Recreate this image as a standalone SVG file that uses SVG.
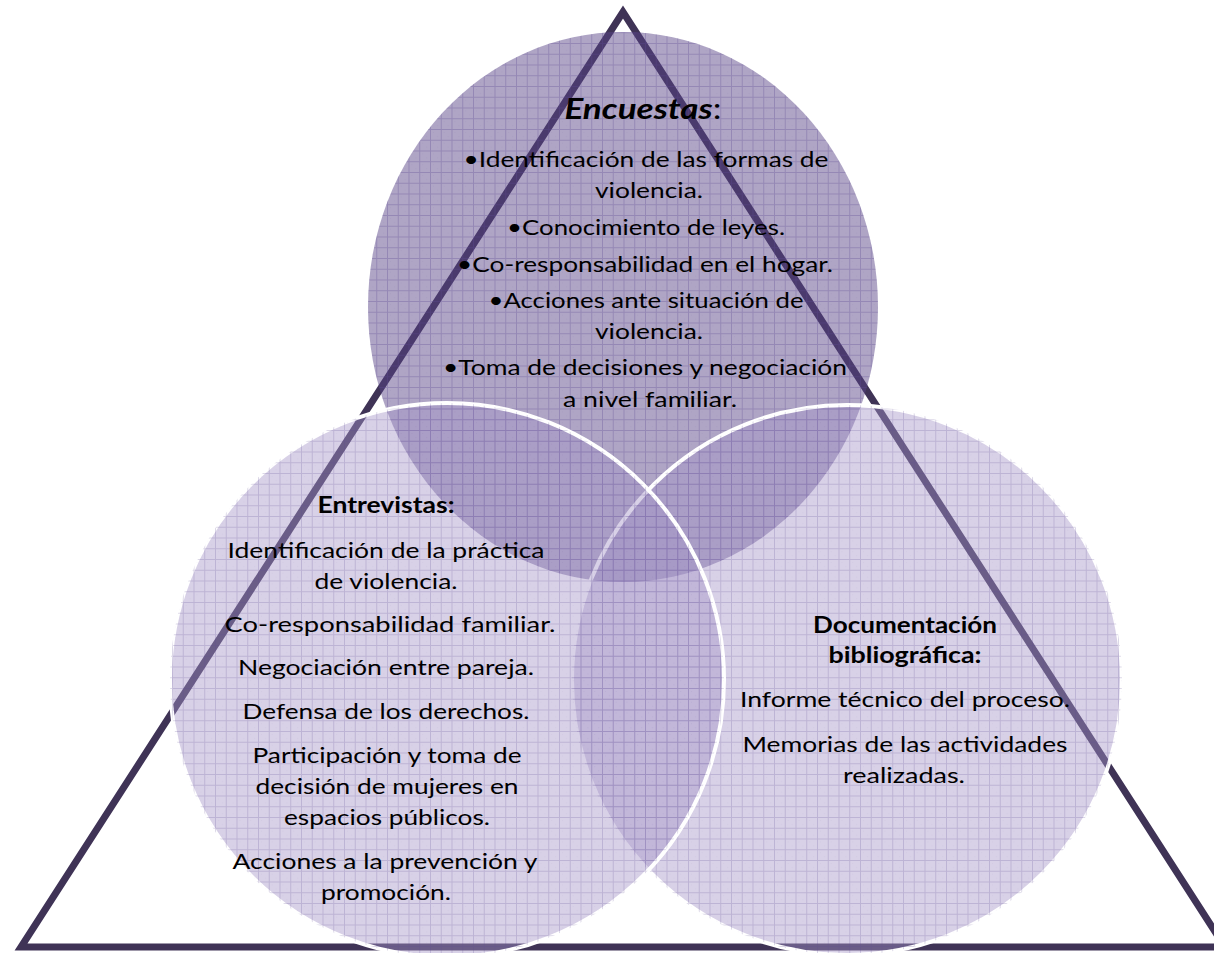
<svg xmlns="http://www.w3.org/2000/svg" width="1214" height="953" viewBox="0 0 1214 953">
  <defs>
    <pattern id="grid" x="0" y="0" width="10.75" height="10.75" patternUnits="userSpaceOnUse">
      <path d="M0 0.5H10.75M0.5 0V10.75" stroke="#5e4a92" stroke-width="1" fill="none"/>
      <rect x="3" y="3" width="1" height="1" fill="#5e4a92" opacity="0.25"/>
      <rect x="7" y="7" width="1" height="1" fill="#5e4a92" opacity="0.25"/>
    </pattern>
  </defs>
  <style>
    .tri { fill: none; stroke: #3f3356; stroke-width: 7; stroke-linejoin: miter; }
    .top { fill: #584386; fill-opacity: 0.48; }
    .side { fill: #a494c8; fill-opacity: 0.43; stroke: #ffffff; stroke-width: 4; }
    .gridTop { fill: url(#grid); opacity: 0.32; }
    .gridSide { fill: url(#grid); opacity: 0.22; }
    text { font-family: Lato, "Open Sans", "Liberation Sans", sans-serif; font-size: 22px; fill: #000000; text-anchor: middle; }
    .b { font-weight: bold; }
    .title { font-size: 29px; }
  </style>
  <rect width="1214" height="953" fill="#ffffff"/>

  <g id="triangle">
    <polygon class="tri" points="623,12 21,947 1225,947"/>
  </g>

  <g id="connectors"></g>

  <g id="node-encuestas">
    <ellipse class="top" cx="623" cy="307" rx="255" ry="275"/>
    <ellipse class="gridTop" cx="623" cy="307" rx="255" ry="275"/>
    <text class="title" x="643" y="119" textLength="157" lengthAdjust="spacingAndGlyphs"><tspan font-weight="bold" font-style="italic">Encuestas</tspan>:</text>
    <text x="646" y="167" textLength="365" lengthAdjust="spacingAndGlyphs">•Identificación de las formas de</text>
    <text x="649" y="198" textLength="108" lengthAdjust="spacingAndGlyphs">violencia.</text>
    <text x="646" y="235" textLength="278" lengthAdjust="spacingAndGlyphs">•Conocimiento de leyes.</text>
    <text x="645" y="272" textLength="376" lengthAdjust="spacingAndGlyphs">•Co-responsabilidad en el hogar.</text>
    <text x="646" y="308" textLength="315" lengthAdjust="spacingAndGlyphs">•Acciones ante situación de</text>
    <text x="649" y="339" textLength="108" lengthAdjust="spacingAndGlyphs">violencia.</text>
    <text x="645" y="375" textLength="404" lengthAdjust="spacingAndGlyphs">•Toma de decisiones y negociación</text>
    <text x="650" y="407" textLength="174" lengthAdjust="spacingAndGlyphs">a nivel familiar.</text>
  </g>

  <g id="node-documentacion">
    <circle class="side" cx="847" cy="680" r="275"/>
    <circle class="gridSide" cx="847" cy="680" r="275"/>
    <text class="b" x="905" y="633" textLength="184" lengthAdjust="spacingAndGlyphs">Documentación</text>
    <text class="b" x="905" y="663" textLength="153" lengthAdjust="spacingAndGlyphs">bibliográfica:</text>
    <text x="905" y="707" textLength="330" lengthAdjust="spacingAndGlyphs">Informe técnico del proceso.</text>
    <text x="905" y="752" textLength="325" lengthAdjust="spacingAndGlyphs">Memorias de las actividades</text>
    <text x="904" y="783" textLength="122" lengthAdjust="spacingAndGlyphs">realizadas.</text>
  </g>

  <g id="node-entrevistas">
    <circle class="side" cx="447" cy="680" r="277"/>
    <circle class="gridSide" cx="447" cy="680" r="277"/>
    <text class="b" x="386" y="513" textLength="137" lengthAdjust="spacingAndGlyphs">Entrevistas:</text>
    <text x="386" y="558" textLength="317" lengthAdjust="spacingAndGlyphs">Identificación de la práctica</text>
    <text x="386" y="589" textLength="143" lengthAdjust="spacingAndGlyphs">de violencia.</text>
    <text x="390" y="632" textLength="331" lengthAdjust="spacingAndGlyphs">Co-responsabilidad familiar.</text>
    <text x="386" y="675" textLength="296" lengthAdjust="spacingAndGlyphs">Negociación entre pareja.</text>
    <text x="386" y="719" textLength="287" lengthAdjust="spacingAndGlyphs">Defensa de los derechos.</text>
    <text x="387" y="763" textLength="269" lengthAdjust="spacingAndGlyphs">Participación y toma de</text>
    <text x="387" y="794" textLength="263" lengthAdjust="spacingAndGlyphs">decisión de mujeres en</text>
    <text x="387" y="825" textLength="206" lengthAdjust="spacingAndGlyphs">espacios públicos.</text>
    <text x="385" y="869" textLength="305" lengthAdjust="spacingAndGlyphs">Acciones a la prevención y</text>
    <text x="386" y="900" textLength="130" lengthAdjust="spacingAndGlyphs">promoción.</text>
  </g>
</svg>
